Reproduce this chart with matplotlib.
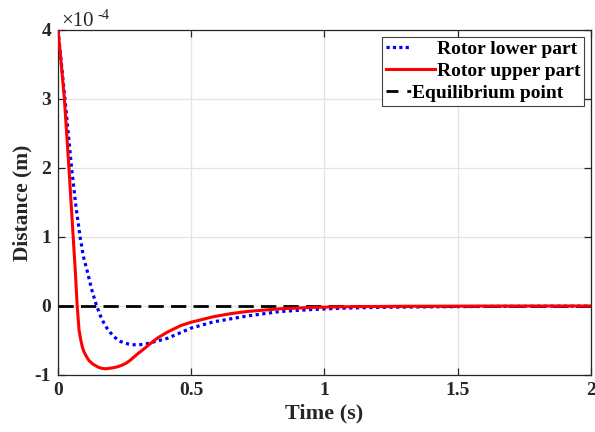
import matplotlib
matplotlib.use("Agg")
import matplotlib.pyplot as plt
from matplotlib.lines import Line2D

# Data (distance in units of 1e-4 m)
t_upper = [0, 0.01, 0.024, 0.041, 0.057, 0.065, 0.072, 0.076, 0.079, 0.083, 0.087,
           0.091, 0.097, 0.105, 0.116, 0.13, 0.15, 0.165, 0.18, 0.2, 0.22, 0.239,
           0.255, 0.27, 0.285, 0.30, 0.32, 0.345, 0.375, 0.41, 0.46, 0.5, 0.584,
           0.65, 0.71, 0.834, 0.96, 1.1, 1.3, 1.6, 2.0]
y_upper = [4.0, 3.6, 3.0, 2.0, 1.0, 0.5, 0.0, -0.2, -0.35, -0.44, -0.52,
           -0.59, -0.66, -0.72, -0.79, -0.84, -0.885, -0.905, -0.91, -0.9, -0.885, -0.86,
           -0.83, -0.79, -0.74, -0.69, -0.63, -0.55, -0.46, -0.38, -0.285, -0.235, -0.155,
           -0.11, -0.08, -0.04, -0.02, -0.01, -0.004, -0.001, 0.0]

t_lower = [0, 0.013, 0.026, 0.051, 0.067, 0.083, 0.095, 0.11, 0.127, 0.145, 0.16,
           0.176, 0.195, 0.214, 0.235, 0.251, 0.275, 0.30, 0.33, 0.36, 0.41, 0.47,
           0.5, 0.584, 0.71, 0.834, 0.96, 1.08, 1.21, 1.4, 1.6, 1.8, 2.0]
y_lower = [4.0, 3.5, 3.0, 2.0, 1.45, 1.0, 0.72, 0.5, 0.23, 0.0, -0.15,
           -0.28, -0.38, -0.458, -0.515, -0.54, -0.56, -0.565, -0.55, -0.52, -0.47, -0.37,
           -0.32, -0.23, -0.145, -0.08, -0.05, -0.03, -0.02, -0.012, -0.007, -0.004, -0.002]

t_eq = [0, 2]
y_eq = [0, 0]

labels = ["Rotor lower part", "Rotor upper part", "Equilibrium point"]
xticks = [0, 0.5, 1, 1.5, 2]
xticklabels = ["0", "0.5", "1", "1.5", "2"]
yticks = [-1, 0, 1, 2, 3, 4]
yticklabels = ["-1", "0", "1", "2", "3", "4"]

plt.rcParams['font.family'] = ['Liberation Serif', 'DejaVu Serif']

fig = plt.figure(figsize=(5.95, 4.32), dpi=100)
ax = fig.add_axes([0.0975, 0.132, 0.8955, 0.7986])

blue_ls = (0, (1, 1.1))
dash_ls = (0, (5.5, 2.6))
ax.plot(t_lower, y_lower, color='#0000ff', lw=2.3, linestyle=blue_ls, zorder=3)
ax.plot(t_upper, y_upper, color='#ff0000', lw=2.2, linestyle='-', zorder=4)
ax.plot(t_eq, y_eq, color='black', lw=2.0, linestyle=dash_ls, zorder=2)

ax.set_xlim(0, 2)
ax.set_ylim(-1, 4)
ax.set_xticks(xticks)
ax.set_xticklabels(xticklabels)
ax.set_yticks(yticks)
ax.set_yticklabels(yticklabels)
ax.grid(True, color='#e3e3e3', lw=0.9)
ax.set_axisbelow(True)
ax.tick_params(direction='in', length=5, width=0.9, top=True, right=True,
               labelsize=14, pad=5, colors='#262626')
for lab in ax.get_xticklabels() + ax.get_yticklabels():
    lab.set_fontweight('bold')
for sp in ax.spines.values():
    sp.set_color('#262626')
    sp.set_linewidth(0.9)

ax.set_xlabel("Time (s)", fontsize=16, fontweight='bold', color='#262626', labelpad=3)
ax.set_ylabel("Distance (m)", fontsize=15.5, fontweight='bold', color='#262626', labelpad=1.5)

ax.text(0.006, 1.0116, "\u00d710", transform=ax.transAxes, fontsize=15, color='#262626',
        ha='left', va='baseline')
ax.text(0.0735, 1.032, "-4", transform=ax.transAxes, fontsize=10.5, color='#262626',
        ha='left', va='baseline')

# legend proxies (styled like the reference legend samples)
h_blue = Line2D([], [], color='#0000ff', lw=2.3, linestyle=(0, (1, 1, 1, 1, 1, 1, 1, 30)))
h_red = Line2D([], [], color='#ff0000', lw=2.2, linestyle='-')
h_blk = Line2D([], [], color='black', lw=2.0, linestyle=(0, (4.3, 3.2, 1.4, 30)))
leg = ax.legend([h_blue, h_red, h_blk], labels, loc='upper right',
                prop={'weight': 'bold', 'size': 14},
                handlelength=2.5, handletextpad=0.1, borderpad=0.2, labelspacing=0.22,
                borderaxespad=0.35, fancybox=False, framealpha=1, edgecolor='#404040')
leg.get_frame().set_linewidth(0.8)
# shift the third label left (its sample is shorter, as in the reference)
try:
    col = leg._legend_handle_box.get_children()[0]
    item = col.get_children()[2]
    item.get_children()[0].width = 2.5 * 14 * 0.5
except Exception:
    pass

fig.savefig("out.png", dpi=100)
